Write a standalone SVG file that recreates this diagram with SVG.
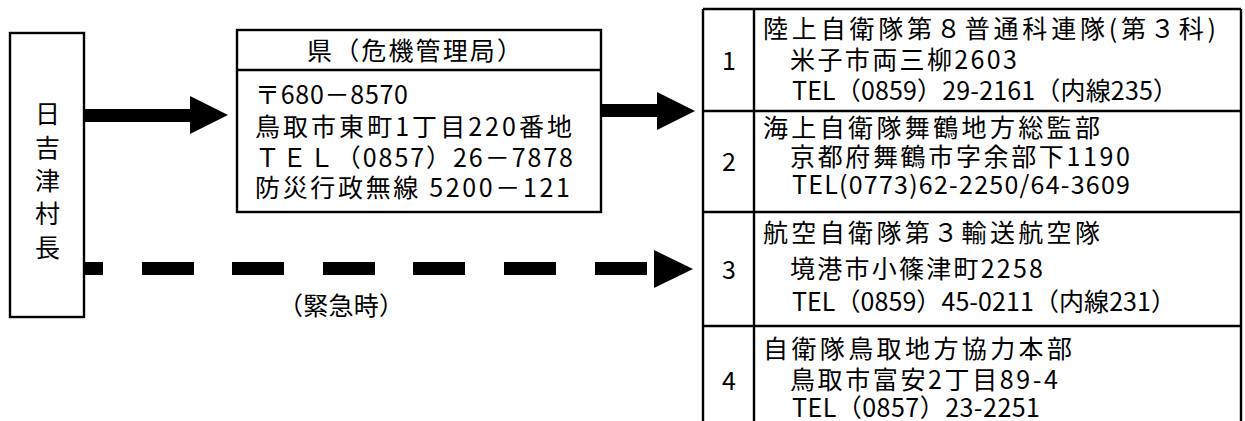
<svg xmlns="http://www.w3.org/2000/svg" width="1245" height="421" viewBox="0 0 1245 421">
<style>
.box{fill:#fff;stroke:#000;stroke-width:2.4}
.ln{stroke:#000;stroke-width:2.4;fill:none}
.t{font-family:"Noto Sans CJK JP","Noto Sans",sans-serif;font-size:25px;fill:#000}
.c{text-anchor:middle}
.ar{fill:#000}
</style>
<rect width="1245" height="421" fill="#fff"/>
<g id="mayor">
<rect class="box" x="10" y="33" width="74" height="284"/>
<text class="t c" x="47.5" y="122.5">日</text>
<text class="t c" x="47.5" y="156.5">吉</text>
<text class="t c" x="47.5" y="189.5">津</text>
<text class="t c" x="47.5" y="222.5">村</text>
<text class="t c" x="47.5" y="256.5">長</text>
</g>
<g id="prefecture">
<rect class="box" x="237" y="30" width="364" height="182"/>
<line class="ln" x1="237" y1="70" x2="601" y2="70"/>
<text class="t" x="307" y="59.5" textLength="215">県（危機管理局）</text>
<text class="t" x="255" y="103.5" textLength="153">〒680－8570</text>
<text class="t" x="255" y="135.5" textLength="317">鳥取市東町1丁目220番地</text>
<text class="t" x="255" y="166.5" textLength="318">ＴＥＬ（0857）26－7878</text>
<text class="t" x="255" y="196.5" textLength="315">防災行政無線 5200－121</text>
</g>
<g id="sdf-table">
<line class="ln" x1="703" y1="9" x2="1241" y2="9"/>
<line class="ln" x1="703" y1="9" x2="703" y2="425"/>
<line class="ln" x1="754" y1="9" x2="754" y2="425"/>
<line class="ln" x1="1241" y1="9" x2="1241" y2="425"/>
<line class="ln" x1="703" y1="111" x2="1241" y2="111"/>
<line class="ln" x1="703" y1="212" x2="1241" y2="212"/>
<line class="ln" x1="703" y1="326" x2="1241" y2="326"/>
</g>
<g id="row1">
<text class="t c" x="729" y="69.5">1</text>
<text class="t" x="763" y="37.5" textLength="453">陸上自衛隊第８普通科連隊(第３科)</text>
<text class="t" x="790" y="68.5" textLength="227">米子市両三柳2603</text>
<text class="t" x="792" y="99.5" textLength="386">TEL（0859）29-2161（内線235）</text>
</g>
<g id="row2">
<text class="t c" x="729" y="170.5">2</text>
<text class="t" x="763" y="136.5" textLength="337">海上自衛隊舞鶴地方総監部</text>
<text class="t" x="790" y="165.5" textLength="340">京都府舞鶴市字余部下1190</text>
<text class="t" x="792" y="193.5" textLength="338">TEL(0773)62-2250/64-3609</text>
</g>
<g id="row3">
<text class="t c" x="729" y="278.5">3</text>
<text class="t" x="763" y="241.5" textLength="337">航空自衛隊第３輸送航空隊</text>
<text class="t" x="790" y="277.5" textLength="253">境港市小篠津町2258</text>
<text class="t" x="792" y="310.5" textLength="384">TEL（0859）45-0211（内線231）</text>
</g>
<g id="row4">
<text class="t c" x="729" y="389.5">4</text>
<text class="t" x="763" y="357.5" textLength="309">自衛隊鳥取地方協力本部</text>
<text class="t" x="790" y="388.5" textLength="268">鳥取市富安2丁目89-4</text>
<text class="t" x="792" y="417" textLength="248">TEL（0857）23-2251</text>
</g>
<g id="connectors">
<polygon class="ar" points="84,109 190,109 190,96 228,115 190,134 190,122 84,122"/>
<polygon class="ar" points="602,104 657,104 657,92 695,111 657,130 657,117 602,117"/>
<g id="emergency">
<rect class="ar" x="84" y="262" width="19" height="13"/>
<rect class="ar" x="142" y="262" width="52" height="13"/>
<rect class="ar" x="232" y="262" width="52" height="13"/>
<rect class="ar" x="323" y="262" width="52" height="13"/>
<rect class="ar" x="413" y="262" width="52" height="13"/>
<rect class="ar" x="504" y="262" width="52" height="13"/>
<rect class="ar" x="595" y="262" width="52" height="13"/>
<polygon class="ar" points="654,250 693,269 654,288"/>
</g>
<text class="t" x="278" y="314.5" textLength="126">（緊急時）</text>
</g>
</svg>
